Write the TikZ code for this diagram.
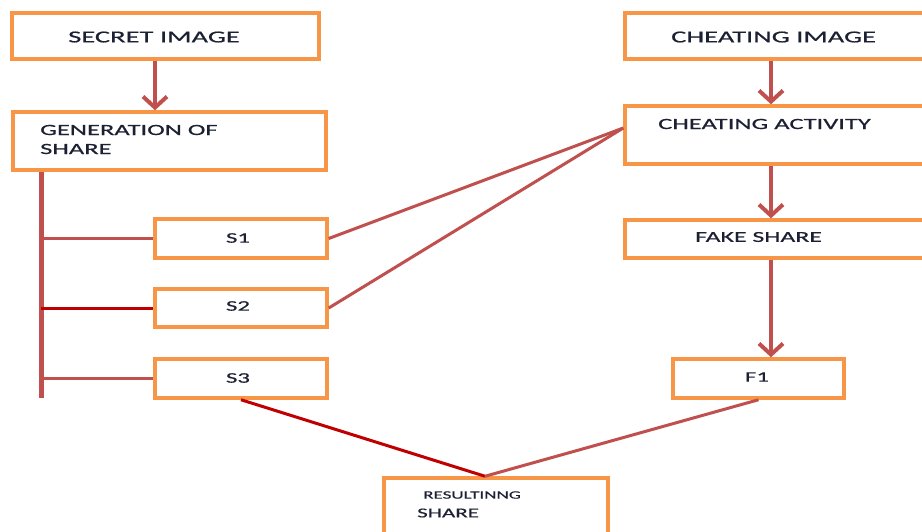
\documentclass[tikz,border=0pt]{standalone}
\usepackage{fontspec}
\usetikzlibrary{arrows.meta}
\newfontfamily\boxfont[FakeStretch=1.7,FakeBold=0.6]{Carlito}
\definecolor{boxorange}{HTML}{F79646}
\definecolor{linered}{HTML}{C0504D}
\definecolor{darkred}{HTML}{C00000}
\definecolor{txtblue}{HTML}{1C2033}

\begin{document}
\begin{tikzpicture}[x=1pt,y=-1pt,
    box/.style={draw=boxorange,line width=3.5pt,inner sep=0pt},
    lbl/.style={text=txtblue,inner sep=0pt,anchor=west,align=left,font=\boxfont\fontsize{#1}{19}\selectfont},
    link/.style={draw=linered,line width=3pt},
    arr/.style={draw=linered,line width=4pt,-{Straight Barb[length=11pt,width=24pt]}}]
    \useasboundingbox (0,0) rectangle (922,531);
    \clip (0,0) rectangle (922,531);
    \node[box,minimum width=307pt,minimum height=46pt] (secret) at (165.5,36) {};
    \node[box,minimum width=313pt,minimum height=58pt] (gen) at (169.5,141) {};
    \node[box,minimum width=315pt,minimum height=46pt] (cheatimg) at (782.5,36) {};
    \node[box,minimum width=315pt,minimum height=58pt] (act) at (782.5,135) {};
    \node[box,minimum width=315pt,minimum height=38pt] (fake) at (782.5,239) {};
    \node[box,minimum width=172pt,minimum height=39pt] (s1) at (241,238.5) {};
    \node[box,minimum width=172pt,minimum height=38pt] (s2) at (241,308) {};
    \node[box,minimum width=172pt,minimum height=39pt] (s3) at (241,378.5) {};
    \node[box,minimum width=171pt,minimum height=39pt] (f1) at (758.5,378.5) {};
    \node[box,minimum width=224pt,minimum height=82pt] (res) at (496,519) {};

    \node[lbl=16.8] (secretlbl) at (68,37) {SECRET IMAGE};
    \node[lbl=15.6] (genlbl) at (40,139.5) {GENERATION OF\\SHARE};
    \node[lbl=16.8] (cheatimglbl) at (671,37) {CHEATING IMAGE};
    \node[lbl=15.6] (actlbl) at (658,124) {CHEATING ACTIVITY};
    \node[lbl=15.2] (fakelbl) at (695,237) {FAKE SHARE};
    \node[lbl=14.6,anchor=center] (s1lbl) at (238,238) {S1};
    \node[lbl=14.6,anchor=center] (s2lbl) at (238,306) {S2};
    \node[lbl=14.6,anchor=center] (s3lbl) at (238,378) {S3};
    \node[lbl=14.6,anchor=center] (f1lbl) at (757,377) {F1};
    \node[lbl=11.2] (reslbl) at (423,495) {RESULTINNG};
    \node[lbl=13.5] (sharelbl) at (417,513) {SHARE};

    \coordinate (lx) at (155,0);
    \coordinate (rx) at (771,0);
    \coordinate (bar) at (41,398);
    \draw[arr] (secret.south -| lx) -- (gen.north -| lx);
    \draw[arr] (cheatimg.south -| rx) -- (act.north -| rx);
    \draw[arr] (act.south -| rx) -- (fake.north -| rx);
    \draw[arr] (fake.south -| rx) -- (f1.north -| rx);
    \draw[linered,line width=5pt] (gen.south -| bar) -- (bar);
    \draw[link] (s1.west -| bar) -- (s1.west);
    \draw[link,darkred] (s2.west -| bar) -- (s2.west);
    \draw[link] (s3.west -| bar) -- (s3.west);
    \draw[link] (s1.east) -- ([yshift=7pt]act.west);
    \draw[link] (s2.east) -- ([yshift=7pt]act.west);
    \draw[link,darkred] (s3.south) -- ([xshift=-11pt]res.north);
    \draw[link] (f1.south) -- ([xshift=-11pt]res.north);
\end{tikzpicture}
\end{document}
